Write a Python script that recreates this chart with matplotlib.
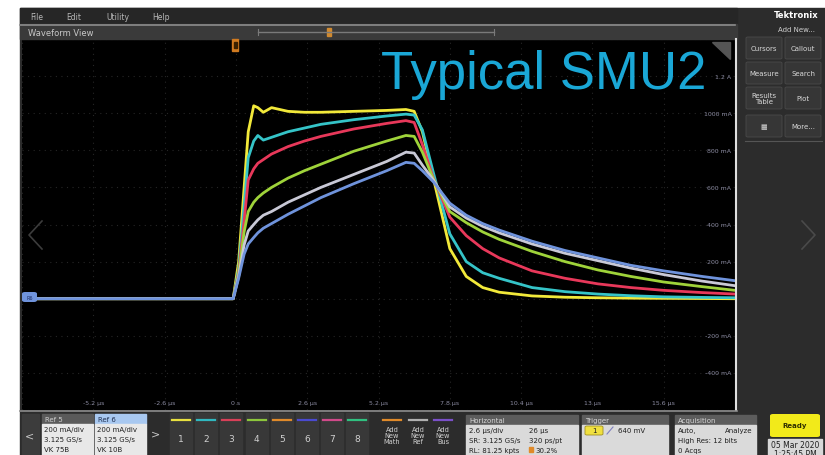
import matplotlib
matplotlib.use("Agg")
import matplotlib.pyplot as plt
from matplotlib.patches import Rectangle, FancyBboxPatch
from matplotlib.lines import Line2D

W, H = 825, 456

# time axis in microseconds, currents in mA
t_us = [-7.8, -0.1, 0.1, 0.3, 0.45, 0.65, 0.8, 1.0, 1.3, 1.9, 2.5, 3.1, 4.3, 5.5, 6.2,
        6.5, 6.8, 7.2, 7.8, 8.4, 9.0, 9.6, 10.8, 12.0, 13.2, 14.4, 15.6, 17.0, 18.2]

yellow_ma = [0, 0, 200, 600, 900, 1040, 1030, 1005, 1030, 1010, 1005, 1005, 1010, 1015, 1020,
             1010, 900, 650, 270, 120, 60, 35, 15, 8, 5, 3, 2, 1, 0]
cyan_ma = [0, 0, 160, 500, 760, 850, 880, 855, 870, 900, 920, 940, 965, 985, 995,
           990, 910, 680, 350, 200, 140, 110, 60, 38, 25, 16, 10, 7, 5]
red_ma = [0, 0, 140, 420, 640, 700, 730, 750, 780, 820, 850, 875, 915, 945, 960,
          950, 830, 650, 440, 340, 270, 220, 150, 110, 80, 60, 45, 33, 25]
green_ma = [0, 0, 130, 360, 470, 520, 545, 570, 600, 650, 690, 725, 795, 850, 880,
            875, 790, 645, 470, 410, 360, 320, 255, 200, 155, 120, 90, 65, 45]
gray_ma = [0, 0, 120, 290, 365, 400, 425, 450, 470, 520, 560, 600, 670, 740, 790,
           785, 720, 640, 495, 435, 390, 355, 295, 245, 205, 165, 130, 95, 70]
blue_ma = [0, 0, 110, 240, 295, 330, 355, 380, 405, 455, 500, 545, 620, 690, 735,
           730, 690, 630, 515, 450, 405, 370, 310, 260, 220, 180, 150, 120, 97]

traces = [yellow_ma, cyan_ma, red_ma, green_ma, gray_ma, blue_ma]
trace_colors = ["#f2e93a", "#35c4c8", "#e8385a", "#9fd33a", "#c9c9d6", "#6f93dc"]

x_ticks = [-5.2, -2.6, 0, 2.6, 5.2, 7.8, 10.4, 13, 15.6]
x_tick_labels = ["-5.2 µs", "-2.6 µs", "0 s", "2.6 µs", "5.2 µs", "7.8 µs", "10.4 µs", "13 µs", "15.6 µs"]
y_ticks = [1200, 1000, 800, 600, 400, 200, -200, -400]
y_tick_labels = ["1.2 A", "1000 mA", "800 mA", "600 mA", "400 mA", "200 mA", "-200 mA", "-400 mA"]

menu_items = ["File", "Edit", "Utility", "Help"]
channel_colors = ["#e8e040", "#30b8c0", "#d84058", "#8cc63c", "#e08a2a", "#4a4ad0", "#d04a8a", "#30c080"]


def fx(x):
    return x / W


def fy(y):
    return 1 - y / H


def box(x, y, w, h, color, **kw):
    fig.patches.append(Rectangle((fx(x), fy(y + h)), w / W, h / H,
                                 transform=fig.transFigure, color=color, **kw))


def rbox(x, y, w, h, color, ec="none", r=2):
    fig.patches.append(FancyBboxPatch((fx(x), fy(y + h)), w / W, h / H,
                                      boxstyle="round,pad=0,rounding_size=%f" % (r / W),
                                      transform=fig.transFigure, fc=color, ec=ec, lw=0.6))


def txt(x, y, s, size=5.5, color="#c8c8c8", ha="left", **kw):
    fig.text(fx(x), fy(y), s, fontsize=size, color=color, ha=ha, va="center", **kw)


def seg(xs, ys, color, lw=1.0, **kw):
    fig.lines.append(Line2D([fx(v) for v in xs], [fy(v) for v in ys],
                            transform=fig.transFigure, color=color, lw=lw, **kw))


fig = plt.figure(figsize=(W / 100, H / 100), dpi=100)
fig.patch.set_facecolor("white")

# screen background (behind the axes)
box(20, 9, 805, 447, "#2c2c2c", zorder=-5)
# menu bar
box(20, 9, 717, 16, "#262626")
for name, x in zip(menu_items, [30, 66, 106, 152]):
    txt(x, 17, name, size=5.5, color="#b8b8b8")
# waveform view title bar
box(20, 25, 717, 15, "#3a3a3a")
seg([20, 735], [25.5, 25.5], "#8c8c8c", lw=1.2)
txt(28, 33, "Waveform View", size=6, color="#c8c8c8")
seg([258, 494], [33, 33], "#7a7a7a", lw=1.0)
seg([258, 258], [30, 36], "#7a7a7a", lw=0.8)
seg([494, 494], [30, 36], "#7a7a7a", lw=0.8)
box(327, 29, 4, 8, "#d08a30")

# waveform axes
ax = fig.add_axes([fx(22), fy(411), 713 / W, 371 / H])
ax.set_facecolor("black")
for t_vals, c in zip(traces, trace_colors):
    ax.plot(t_us, t_vals, color=c, lw=2.0, solid_joinstyle="round")
ax.set_xlim(-7.8, 18.2)
ax.set_ylim(-600, 1400)
ax.set_xticks([-7.8 + 2.6 * i for i in range(11)])
ax.set_yticks([-600 + 200 * i for i in range(11)])
ax.grid(True, color="#262626", ls=(0, (1, 4)), lw=0.8)
ax.set_axisbelow(True)
ax.tick_params(length=0, labelbottom=False, labelleft=False)
for s in ax.spines.values():
    s.set_visible(False)
for v, lab in zip(x_ticks, x_tick_labels):
    ax.text(v, 0.02, lab, transform=ax.get_xaxis_transform(), fontsize=4.5,
            color="#8a8aa0", ha="center", va="center")
for v, lab in zip(y_ticks, y_tick_labels):
    ax.text(0.995, v, lab, transform=ax.get_yaxis_transform(), fontsize=4.5,
            color="#8a8aa0", ha="right", va="center")
ax.text(0.503, 0.907, "Typical SMU2", transform=ax.transAxes, fontsize=38,
        color="#1aa7d6", family="Liberation Sans", ha="left", va="center")

# trigger marker and ref label
box(232, 40, 6, 12, "#d07a20")
box(233.5, 43, 3, 6, "#3a2000")
rbox(22, 293, 15, 10, "#6f93dc", r=3)
txt(29.5, 298, "R6", size=3.5, color="#1a2a60", ha="center")
# corner icon
fig.patches.append(plt.Polygon([(fx(712), fy(43)), (fx(730), fy(43)), (fx(730), fy(60))],
                               closed=True, transform=fig.transFigure, color="#555555"))
# faint chevrons
seg([42, 29, 42], [222, 236, 250], "#3c3c3c", lw=1.2)
seg([802, 815, 802], [222, 236, 250], "#4a4a4a", lw=1.2)

# border lines
seg([735.5, 735.5], [40, 411], "#e0e0e0", lw=1.5)
seg([20, 737], [411.5, 411.5], "#8c8c8c", lw=1.2)

# right panel
txt(796, 15, "Tektronix", size=6, color="white", ha="center", weight="bold")
txt(796, 30, "Add New...", size=5, color="#d0d0d0", ha="center")
buttons = [("Cursors", 764, 49), ("Callout", 803, 49), ("Measure", 764, 74), ("Search", 803, 74),
           ("Results\nTable", 764, 99), ("Plot", 803, 99), ("▦", 764, 127), ("More...", 803, 127)]
for lab, cx, cy in buttons:
    rbox(cx - 18, cy - 11, 36, 22, "#363636", ec="#4a4a4a", r=2)
    txt(cx, cy, lab, size=5, color="#d8d8d8", ha="center", linespacing=0.9)
seg([745, 822], [142, 142], "#555555", lw=0.8)

# bottom panel
box(22, 415, 17, 41, "#3c3c3c")
txt(30, 436, "<", size=8, color="#c8c8c8", ha="center")
for i, (name, x, hc, body) in enumerate([("Ref 5", 42, "#5a5a5a", ["200 mA/div", "3.125 GS/s", "VK 75B"]),
                                          ("Ref 6", 95, "#a8c8f0", ["200 mA/div", "3.125 GS/s", "VK 10B"])]):
    box(x, 415, 51, 10, hc)
    txt(x + 3, 420, name, size=5, color="#d0d0d0" if i == 0 else "#203050")
    box(x, 425, 51, 31, "#e8e8e8")
    for j, line in enumerate(body):
        txt(x + 2, 430 + j * 10, line, size=5, color="#202020")
txt(155, 434, ">", size=8, color="#c8c8c8", ha="center")
for k, c in enumerate(channel_colors):
    cx = 181 + k * 25.2
    box(cx - 11, 414, 22, 42, "#383838")
    seg([cx - 9, cx + 9], [421, 421], c, lw=1.6)
    txt(cx, 440, str(k + 1), size=6.5, color="#d0d0d0", ha="center")
for lab_c, cx in [("#e08a2a", 392), ("#b0b0b0", 418), ("#7a50c8", 443)]:
    seg([cx - 9, cx + 9], [421, 421], lab_c, lw=1.6)
txt(392, 436, "Add\nNew\nMath", size=4.8, color="#d0d0d0", ha="center", linespacing=0.95)
txt(418, 436, "Add\nNew\nRef", size=4.8, color="#d0d0d0", ha="center", linespacing=0.95)
txt(443, 436, "Add\nNew\nBus", size=4.8, color="#d0d0d0", ha="center", linespacing=0.95)

# horizontal / trigger / acquisition boxes
for name, x, w in [("Horizontal", 466, 112), ("Trigger", 582, 86), ("Acquisition", 675, 81)]:
    box(x, 416, w, 10, "#5c5c5c")
    txt(x + 3, 421, name, size=5, color="#d8d8d8")
    box(x, 426, w, 30, "#dadada")
txt(469, 431, "2.6 µs/div", size=5, color="#202020")
txt(529, 431, "26 µs", size=5, color="#202020")
txt(469, 441, "SR: 3.125 GS/s", size=5, color="#202020")
txt(529, 441, "320 ps/pt", size=5, color="#202020")
txt(469, 451, "RL: 81.25 kpts", size=5, color="#202020")
box(529, 448, 4, 5, "#e08a2a")
txt(535, 451, "30.2%", size=5, color="#202020")
rbox(585, 427, 18, 9, "#f0e040", ec="#a09020", r=2)
txt(594, 431.5, "1", size=5, color="#202020", ha="center")
seg([607, 613], [435, 428], "#8080c0", lw=0.8)
txt(618, 431, "640 mV", size=5, color="#202020")
txt(678, 431, "Auto,", size=5, color="#202020")
txt(752, 431, "Analyze", size=5, color="#202020", ha="right")
txt(678, 441, "High Res: 12 bits", size=5, color="#202020")
txt(678, 451, "0 Acqs", size=5, color="#202020")

rbox(770, 415, 50, 23, "#f2ea1a", r=3)
txt(795, 426.5, "Ready", size=5, color="#303000", ha="center", weight="bold")
box(768, 440, 54, 16, "#d8d8d8")
txt(795, 446, "05 Mar 2020", size=5.5, color="#202020", ha="center")
txt(795, 455, "1:25:45 PM", size=5.5, color="#202020", ha="center")

fig.savefig("out.png", dpi=100, facecolor=fig.get_facecolor())
